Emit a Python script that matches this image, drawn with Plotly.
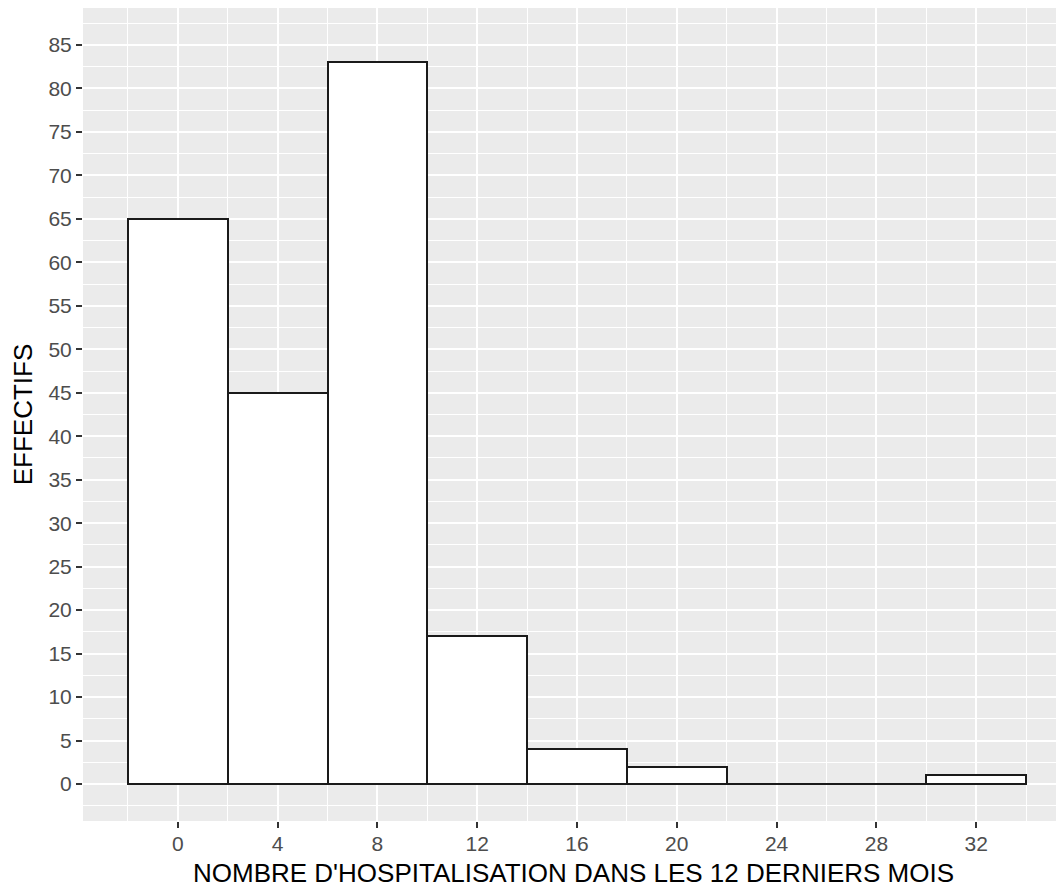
"""
Histogramme - nombre d'hospitalisations dans les 12 derniers mois
(reprise d'un graphique ggplot2 avec Plotly)
"""

import plotly.graph_objects as go

# ============================================================================
# DONNÉES
# ============================================================================

centres = [0, 4, 8, 12, 16, 20, 24, 28, 32]   # centre des classes
effectifs = [65, 45, 83, 17, 4, 2, 0, 0, 1]   # effectif par classe
largeur = 4                                  # largeur des classes

titre_x = "NOMBRE D'HOSPITALISATION DANS LES 12 DERNIERS MOIS"
titre_y = "EFFECTIFS"

# ============================================================================
# FIGURE
# ============================================================================

POLICE = "Liberation Sans, Arial, sans-serif"
CONTOUR = dict(color="#1a1a1a", width=2)

fig = go.Figure()

fig.add_trace(go.Bar(
    x=centres,
    y=effectifs,
    width=largeur,
    marker=dict(color="white", line=CONTOUR),
    hoverinfo="x+y",
))

# ggplot trace aussi les classes vides (trait à 0) : plotly ne le fait pas
xs, ys = [], []
for c, n in zip(centres, effectifs):
    if n == 0:
        xs += [c - largeur / 2, c + largeur / 2, None]
        ys += [0, 0, None]
fig.add_trace(go.Scatter(x=xs, y=ys, mode="lines", line=CONTOUR, hoverinfo="skip"))

axe_commun = dict(
    automargin=False,
    ticks="outside",
    ticklen=6,
    tickwidth=1.5,
    tickcolor="#333333",
    tickfont=dict(family=POLICE, size=21, color="#4D4D4D"),
    showgrid=True,
    gridcolor="white",
    gridwidth=2,
    zeroline=False,
    showline=False,
)

# la page html ajoute 8 px de marge autour du graphique : figure un peu réduite
fig.update_layout(
    width=1056,
    height=887,
    margin=dict(l=75, r=0, t=0, b=74),
    paper_bgcolor="white",
    plot_bgcolor="#EBEBEB",
    showlegend=False,
    bargap=0,
    xaxis=dict(
        axe_commun,
        range=[-3.8, 35.52],
        tick0=0,
        dtick=4,
        ticklabelstandoff=-2,
        minor=dict(tick0=-2, dtick=4, showgrid=True, gridcolor="white", gridwidth=1),
        title=dict(text=titre_x, font=dict(family=POLICE, size=26, color="black"), standoff=9),
    ),
    yaxis=dict(
        axe_commun,
        range=[-4.25, 89.25],
        tick0=0,
        dtick=5,
        minor=dict(tick0=2.5, dtick=5, showgrid=True, gridcolor="white", gridwidth=1),
        title=dict(text=titre_y, font=dict(family=POLICE, size=26, color="black"), standoff=9),
    ),
)

fig.write_html("out.html")
